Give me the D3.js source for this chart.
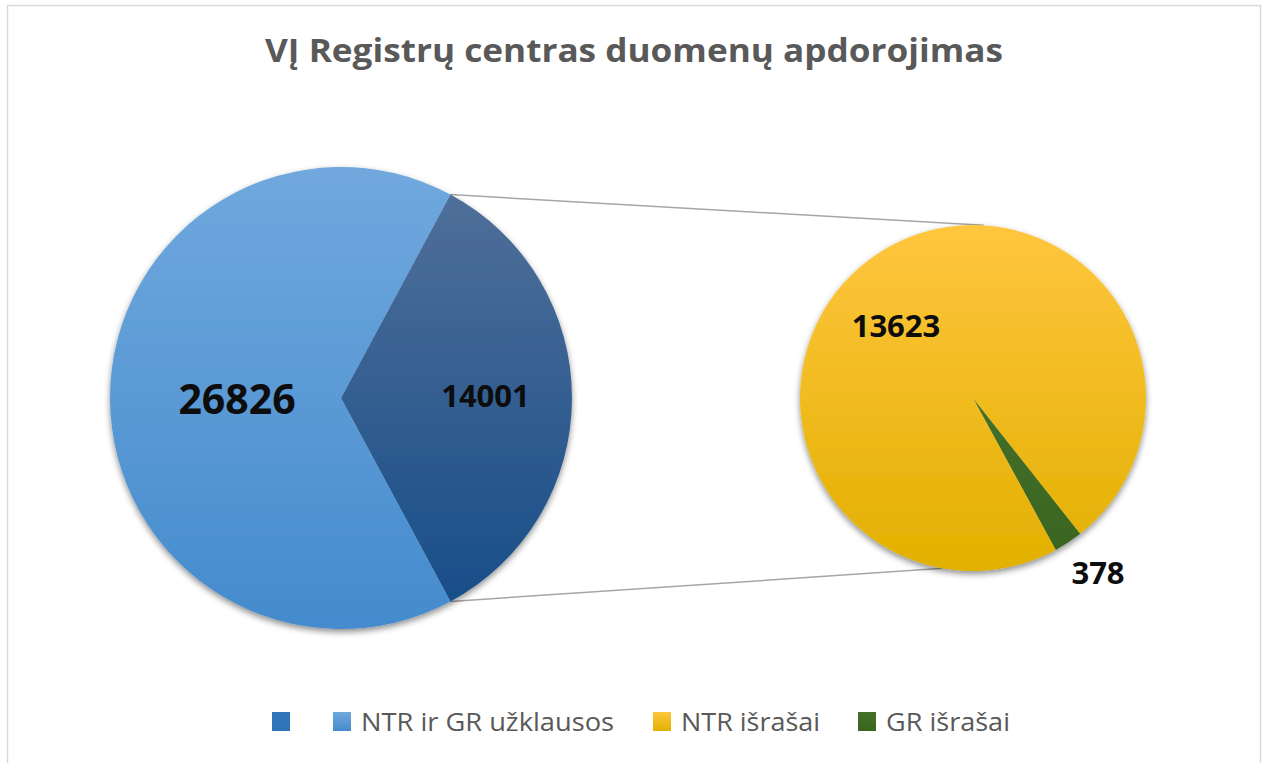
<!DOCTYPE html>
<html>
<head>
<meta charset="utf-8">
<script src="https://cdn.jsdelivr.net/npm/d3@7"></script>
<style>
  body { margin: 0; background: #fff; }
  svg { display: block; font-family: "Open Sans", sans-serif; }
</style>
</head>
<body>
<svg id="chart" width="1269" height="763"></svg>
<script>
// data
var mainLabels = ["14001", "26826"];
var mainValues = [14001, 26826];
var subLabels = ["378", "13623"];
var subValues = [378, 13623];
var legendLabels = ["", "NTR ir GR užklausos", "NTR išrašai", "GR išrašai"];
var title = "VĮ Registrų centras duomenų apdorojimas";

var width = 1269, height = 763;
var svg = d3.select("#chart");

// gradients
var defs = svg.append("defs");
function grad(id, top, bottom) {
	var g = defs.append("linearGradient").attr("id", id)
		.attr("x1", 0).attr("y1", 0).attr("x2", 0).attr("y2", 1);
	g.append("stop").attr("offset", "0%").attr("stop-color", top);
	g.append("stop").attr("offset", "100%").attr("stop-color", bottom);
}
grad("gDark", "#4f6f99", "#184e88");
grad("gLight", "#70a8de", "#448bcd");
grad("gYellow", "#ffc63f", "#e2b000");
grad("gGreen", "#44702c", "#39651f");
grad("lDark", "#2e74b6", "#2e74b6");

var shadow = defs.append("filter").attr("id", "shadow")
	.attr("x", "-10%").attr("y", "-10%").attr("width", "120%").attr("height", "125%");
shadow.append("feDropShadow").attr("dx", 0).attr("dy", 3).attr("stdDeviation", 3)
	.attr("flood-color", "#000").attr("flood-opacity", 0.45);

// frame
svg.append("rect").attr("x", 7.5).attr("y", 5.5).attr("width", 1253).attr("height", 780)
	.attr("fill", "#fff").attr("stroke", "#d9d9d9").attr("stroke-width", 1.5);

svg.append("text").attr("x", 634).attr("y", 62)
	.attr("text-anchor", "middle").attr("font-size", 32).attr("font-weight", "bold")
	.attr("textLength", 738).attr("lengthAdjust", "spacingAndGlyphs")
	.attr("fill", "#595959").text(title);

// main pie
var cx1 = 341, cy1 = 398, r1 = 231;
var cx2 = 973, cy2 = 398, r2 = 173;

var total = d3.sum(mainValues);
var half = Math.PI * mainValues[0] / total;
var pie1 = d3.pie().sort(null).startAngle(Math.PI / 2 - half).endAngle(Math.PI / 2 - half + 2 * Math.PI);
var arc1 = d3.arc().innerRadius(0).outerRadius(r1);
var mainArcs = pie1(mainValues);

// connectors
function rim(cx, cy, r, a) { return [cx + r * Math.sin(a), cy - r * Math.cos(a)]; }
var a0 = mainArcs[0].startAngle, a1 = mainArcs[0].endAngle;
var lines = [
	[rim(cx1, cy1, r1, a0), rim(cx2, cy2, r2, 3.5 * Math.PI / 180)],
	[rim(cx1, cy1, r1, a1), rim(cx2, cy2, r2, 190 * Math.PI / 180)]
];
svg.selectAll("line.conn").data(lines).enter().append("line")
	.attr("class", "conn")
	.attr("x1", d => d[0][0]).attr("y1", d => d[0][1])
	.attr("x2", d => d[1][0]).attr("y2", d => d[1][1])
	.attr("stroke", "#a6a6a6").attr("stroke-width", 1.5);

var g1 = svg.append("g").attr("transform", "translate(" + cx1 + "," + cy1 + ")")
	.attr("filter", "url(#shadow)");
g1.selectAll("path").data(mainArcs).enter().append("path")
	.attr("d", arc1)
	.attr("fill", (d, i) => i == 0 ? "url(#gDark)" : "url(#gLight)");

// sub pie
var pie2 = d3.pie().sort(null).startAngle(141.7 * Math.PI / 180).endAngle(141.7 * Math.PI / 180 + 2 * Math.PI);
var arc2 = d3.arc().innerRadius(0).outerRadius(r2);
var subArcs = pie2(subValues);
var g2 = svg.append("g").attr("transform", "translate(" + cx2 + "," + cy2 + ")")
	.attr("filter", "url(#shadow)");
g2.selectAll("path").data(subArcs).enter().append("path")
	.attr("d", arc2)
	.attr("fill", (d, i) => i == 0 ? "url(#gGreen)" : "url(#gYellow)");

// data labels
var labels = [
	{t: mainLabels[1], x: 237, y: 414, s: 41},
	{t: mainLabels[0], x: 485.5, y: 407, s: 31},
	{t: subLabels[1], x: 896, y: 337, s: 31},
	{t: subLabels[0], x: 1098, y: 584, s: 31}
];
svg.selectAll("text.lbl").data(labels).enter().append("text")
	.attr("class", "lbl")
	.attr("x", d => d.x).attr("y", d => d.y)
	.attr("text-anchor", "middle").attr("font-weight", "bold")
	.attr("font-size", d => d.s).attr("fill", "#0d0d0d")
	.text(d => d.t);

// legend
var legendX = [272, 333, 653, 858];
var legendW = [0, 253, 139, 124];
var legendFill = ["url(#lDark)", "url(#gLight)", "url(#gYellow)", "url(#gGreen)"];
var lg = svg.selectAll("g.leg").data(legendLabels).enter().append("g")
	.attr("class", "leg")
	.attr("transform", (d, i) => "translate(" + legendX[i] + ",712)");
lg.append("rect").attr("width", 18).attr("height", 19)
	.attr("fill", (d, i) => legendFill[i]);
lg.filter(d => d != "").append("text").attr("x", 28).attr("y", 19)
	.attr("font-size", 25).attr("fill", "#595959")
	.attr("textLength", (d, i) => legendW[legendLabels.indexOf(d)])
	.attr("lengthAdjust", "spacingAndGlyphs")
	.text(d => d);
</script>
</body>
</html>
